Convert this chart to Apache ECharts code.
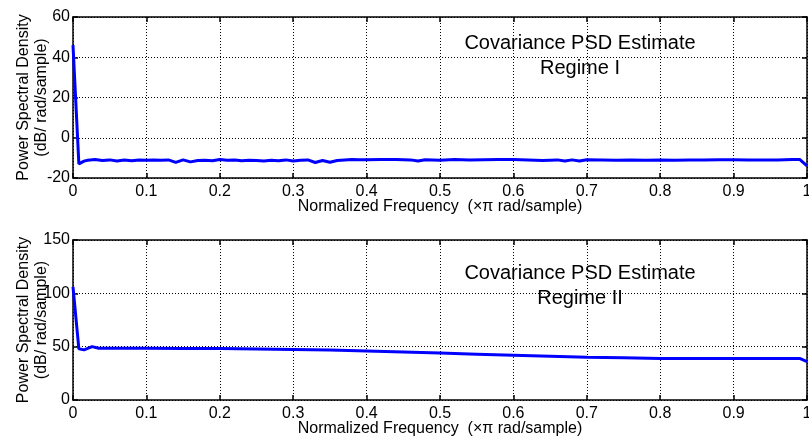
<!DOCTYPE html>
<html>
<head>
<meta charset="utf-8">
<script src="https://cdn.jsdelivr.net/npm/echarts@6/dist/echarts.min.js"></script>
<style>
  html, body { margin: 0; padding: 0; background: #fff; }
  #chart { width: 809px; height: 440px; }
</style>
</head>
<body>
<div id="chart"></div>
<script>
// Covariance PSD estimates, two regimes
const freqTop = [0, 0.008, 0.015, 0.02, 0.03, 0.04, 0.05, 0.06, 0.07, 0.08, 0.09, 0.10,
  0.11, 0.12, 0.13, 0.14, 0.15, 0.16, 0.17, 0.18, 0.19, 0.20, 0.21, 0.22, 0.23, 0.24, 0.25,
  0.26, 0.27, 0.28, 0.29, 0.30, 0.31, 0.32, 0.33, 0.34, 0.35, 0.36, 0.37, 0.38, 0.39, 0.40,
  0.42, 0.44, 0.46, 0.47, 0.48, 0.50, 0.52, 0.54, 0.56, 0.58, 0.60, 0.62, 0.64, 0.66, 0.67,
  0.68, 0.69, 0.70, 0.72, 0.74, 0.76, 0.78, 0.80, 0.82, 0.84, 0.86, 0.88, 0.90, 0.92, 0.94,
  0.96, 0.98, 0.99, 1.0];
const psdTop = [46, -13, -11.6, -11.2, -10.8, -11.3, -11.0, -11.5, -11.1, -11.4, -11.0, -11.2,
  -11.0, -11.2, -11.0, -12.2, -11.0, -12.0, -11.3, -11.2, -11.4, -10.8, -11.2, -11.0, -11.4, -11.2, -11.3,
  -11.5, -11.2, -11.4, -11.0, -11.6, -11.2, -11.0, -12.3, -11.3, -12.2, -11.3, -11.0, -10.8, -10.9, -10.9,
  -10.8, -10.8, -11.0, -11.6, -10.9, -11.2, -10.8, -11.0, -10.9, -10.8, -10.8, -11.0, -11.3, -11.0, -11.6,
  -11.0, -11.6, -10.9, -11.0, -11.2, -11.0, -11.2, -11.0, -11.2, -11.0, -11.0, -10.9, -10.9, -11.0, -11.0,
  -11.0, -10.8, -10.8, -14.0];

const freqBottom = [0, 0.008, 0.015, 0.026, 0.035, 0.05, 0.1, 0.15, 0.2, 0.25, 0.3, 0.35,
  0.4, 0.45, 0.5, 0.55, 0.6, 0.65, 0.7, 0.75, 0.8, 0.85, 0.9, 0.95, 0.99, 1.0];
const psdBottom = [106, 48, 47, 50, 48.5, 48.5, 48.4, 48.3, 48.2, 47.8, 47.3, 46.8,
  46, 45, 44, 43, 42, 41, 40, 39.5, 39, 39, 39, 39, 39, 36];

const xTicks = [0, 0.1, 0.2, 0.3, 0.4, 0.5, 0.6, 0.7, 0.8, 0.9, 1];
const yTicksTop = [-20, 0, 20, 40, 60];
const yTicksBottom = [0, 50, 100, 150];

const titleLine1 = "Covariance PSD Estimate";
const regimes = ["Regime I", "Regime II"];
const xName = "Normalized Frequency  (\u00d7\u03c0 rad/sample)";
const yName = "Power Spectral Density\n(dB/ rad/sample)";

const FONT = "Liberation Sans, Arial, sans-serif";

function pairs(xs, ys) {
  return xs.map((x, i) => [x, ys[i]]);
}

const grids = [
  { left: 73, right: 2, top: 17, height: 161, containLabel: false, outerBoundsMode: "none" },
  { left: 73, right: 2, top: 240, height: 160, containLabel: false, outerBoundsMode: "none" }
];

const dotted = { show: true, lineStyle: { color: "#000", type: [1, 2], width: 1 } };
const boxLine = { show: true, onZero: false, lineStyle: { color: "#000", width: 1.5 } };
const inTick = { show: true, inside: true, length: 5, lineStyle: { color: "#000", width: 1.5 } };

function xAxes(gi) {
  return [
    {
      type: "value", gridIndex: gi, min: 0, max: 1, interval: 0.1, position: "bottom",
      axisLine: boxLine, axisTick: inTick,
      axisLabel: { color: "#000", fontSize: 16, fontFamily: FONT, margin: 6,
        formatter: (v) => {
          const r = Math.round(v * 10) / 10;
          return xTicks.includes(r) ? String(r) : "";
        } },
      splitLine: dotted,
      name: xName, nameLocation: "middle", nameGap: 21, nameMoveOverlap: false,
      nameTextStyle: { color: "#000", fontSize: 16, fontFamily: FONT, verticalAlign: "top" }
    },
    {
      type: "value", gridIndex: gi, min: 0, max: 1, interval: 0.1, position: "top",
      axisLine: boxLine, axisTick: inTick,
      axisLabel: { show: false }, splitLine: { show: false }
    }
  ];
}

function yAxes(gi, ticks) {
  const min = ticks[0], max = ticks[ticks.length - 1];
  const step = ticks[1] - ticks[0];
  return [
    {
      type: "value", gridIndex: gi, min, max, interval: step, position: "left",
      axisLine: boxLine, axisTick: inTick,
      axisLabel: { color: "#000", fontSize: 16, fontFamily: FONT, margin: 3 },
      splitLine: dotted,
      name: yName, nameLocation: "middle", nameGap: 22, nameRotate: 90, nameMoveOverlap: false,
      nameTextStyle: { color: "#000", fontSize: 16, fontFamily: FONT, lineHeight: 18 }
    },
    {
      type: "value", gridIndex: gi, min, max, interval: step, position: "right",
      axisLine: boxLine, axisTick: inTick,
      axisLabel: { show: false }, splitLine: { show: false }
    }
  ];
}

const chart = echarts.init(document.getElementById("chart"), null, { renderer: "canvas" });
chart.setOption({
  animation: false,
  backgroundColor: "#fff",
  title: [
    { text: titleLine1 + "\n" + regimes[0], left: 575, top: 26, textAlign: "center",
      textStyle: { color: "#000", fontSize: 20, fontWeight: "normal", fontFamily: FONT, lineHeight: 25, align: "center" } },
    { text: titleLine1 + "\n" + regimes[1], left: 575, top: 256, textAlign: "center",
      textStyle: { color: "#000", fontSize: 20, fontWeight: "normal", fontFamily: FONT, lineHeight: 25, align: "center" } }
  ],
  grid: grids,
  xAxis: [...xAxes(0), ...xAxes(1)],
  yAxis: [...yAxes(0, yTicksTop), ...yAxes(1, yTicksBottom)],
  series: [
    { type: "line", xAxisIndex: 0, yAxisIndex: 0, data: pairs(freqTop, psdTop),
      showSymbol: false, lineStyle: { color: "#0000ff", width: 3 } },
    { type: "line", xAxisIndex: 2, yAxisIndex: 2, data: pairs(freqBottom, psdBottom),
      showSymbol: false, lineStyle: { color: "#0000ff", width: 3 } }
  ]
});
</script>
</body>
</html>
